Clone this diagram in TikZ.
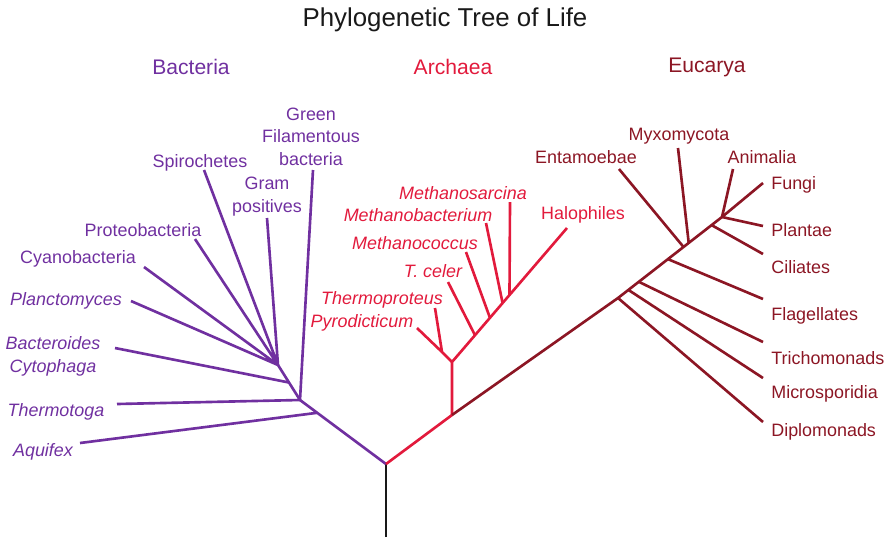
\documentclass[tikz,border=0pt]{standalone}
\usepackage{fontspec}
\setmainfont{Liberation Sans}
\usetikzlibrary{calc}
\definecolor{grape}{RGB}{112,48,160}
\definecolor{crimson}{RGB}{226,26,60}
\definecolor{maroon}{RGB}{140,22,36}
\definecolor{ink}{RGB}{25,25,25}
\tikzset{
  branch/.style={draw=#1,line width=1.5pt,line join=round},
  branch/.default=ink,
  tag/.style={text=#1,font=\fontsize{10.2}{13}\selectfont,align=center,inner sep=0pt,yshift=-1pt},
  tag/.default=ink,
  itag/.style={tag=#1,font=\fontsize{10.2}{13}\selectfont\itshape},
  rtag/.style={tag=#1,anchor=west},
  domain/.style={text=#1,font=\fontsize{12}{14}\selectfont,yshift=-0.6pt},
  % tree is laid out in pixels, y pointing down
}

\begin{document}
\begin{tikzpicture}[x=0.02cm,y=-0.02cm]
  \useasboundingbox (0,0) rectangle (890,539);
  \node[text=ink,font=\fontsize{14.7}{17}\selectfont,yshift=-1.1pt] (title) at (445,18) {Phylogenetic Tree of Life};
  \node[domain=grape] (bac) at (191,66) {Bacteria};
  \node[domain=crimson] (arc) at (453,66) {Archaea};
  \node[domain=maroon] (euk) at (707,66) {Eucarya};
  % trunk and main forks
  \coordinate (base) at (386,537); \coordinate (root) at (386,464);
  \coordinate (b1) at (300,400); \coordinate (b2) at (278,365);
  \coordinate (a0) at (452,415); \coordinate (a1) at (452,362); \coordinate (a2) at (442,352);
  \coordinate (e1) at (618,298); \coordinate (e2) at (722,217);
  \coordinate (halo) at (567,228);
  \draw[branch] (base) -- (root);
  % bacteria
  \coordinate (jaq) at ($(root)!0.8!(b1)$); \coordinate (jbc) at ($(b1)!0.5!(b2)$);
  \coordinate (aqu) at (80,443); \coordinate (tmt) at (117,404); \coordinate (gfb) at (313,170);
  \coordinate (bcy) at (115,348); \coordinate (pla) at (131,301); \coordinate (cya) at (144,267);
  \coordinate (pro) at (195,239); \coordinate (spi) at (204,170); \coordinate (grp) at (267,218);
  \draw[branch=grape] (root) -- (b1) -- (b2);
  \draw[branch=grape] (jaq) -- (aqu) (b1) -- (tmt) (b1) -- (gfb) (jbc) -- (bcy)
    (b2) -- (pla) (b2) -- (cya) (b2) -- (pro) (b2) -- (spi) (b2) -- (grp);
  \node[tag=grape] (l-gfb) at (311,135) {Green\\Filamentous\\bacteria};
  \node[tag=grape] (l-spi) at (200,161) {Spirochetes};
  \node[tag=grape] (l-grp) at (267,195) {Gram\\positives};
  \node[tag=grape] (l-pro) at (143,228) {Proteobacteria};
  \node[tag=grape] (l-cya) at (78,257) {Cyanobacteria};
  \node[itag=grape] (l-pla) at (66,299) {Planctomyces};
  \node[itag=grape] (l-bcy) at (53,355) {Bacteroides\\Cytophaga};
  \node[itag=grape] (l-tmt) at (56,410) {Thermotoga};
  \node[itag=grape] (l-aqu) at (43,450) {Aquifex};
  % archaea
  \coordinate (jtc) at ($(a1)!0.2!(halo)$); \coordinate (jmc) at ($(a1)!0.33!(halo)$);
  \coordinate (jmb) at ($(a1)!0.44!(halo)$); \coordinate (jms) at ($(a1)!0.5!(halo)$);
  \coordinate (pyr) at (417,328); \coordinate (thp) at (435,308); \coordinate (tce) at (448,282);
  \coordinate (mco) at (466,252); \coordinate (mba) at (486,223); \coordinate (msa) at (510,202);
  \draw[branch=crimson] (root) -- (a0) -- (a1) -- (halo);
  \draw[branch=crimson] (a1) -- (a2) -- (pyr) (a2) -- (thp) (jtc) -- (tce) (jmc) -- (mco)
    (jmb) -- (mba) (jms) -- (msa);
  \node[itag=crimson] (l-msa) at (463,191) {Methanosarcina};
  \node[itag=crimson] (l-mba) at (418,213) {Methanobacterium};
  \node[itag=crimson] (l-mco) at (415,241) {Methanococcus};
  \node[itag=crimson] (l-tce) at (433,269) {T. celer};
  \node[itag=crimson] (l-thp) at (382,298) {Thermoproteus};
  \node[itag=crimson] (l-pyr) at (362,321) {Pyrodicticum};
  \node[tag=crimson] (l-hal) at (583,213) {Halophiles};
  % eucarya
  \coordinate (jmi) at ($(e1)!0.1!(e2)$); \coordinate (jtr) at ($(e1)!0.2!(e2)$);
  \coordinate (jfl) at ($(e1)!0.48!(e2)$); \coordinate (jen) at ($(e1)!0.63!(e2)$);
  \coordinate (jmy) at ($(e1)!0.68!(e2)$); \coordinate (jci) at ($(e1)!0.9!(e2)$);
  \coordinate (dip) at (763,422); \coordinate (mic) at (763,378); \coordinate (tri) at (763,342);
  \coordinate (fla) at (763,299); \coordinate (cil) at (763,254); \coordinate (pln) at (763,226);
  \coordinate (fun) at (763,183); \coordinate (ani) at (733,169); \coordinate (myx) at (678,148);
  \coordinate (ent) at (619,169);
  \draw[branch=maroon] (a0) -- (e1) -- (e2) -- (fun);
  \draw[branch=maroon] (e1) -- (dip) (jmi) -- (mic) (jtr) -- (tri) (jfl) -- (fla) (jen) -- (ent)
    (jmy) -- (myx) (jci) -- (cil) (e2) -- (pln) (e2) -- (ani);
  \node[tag=maroon] (l-myx) at (679,134) {Myxomycota};
  \node[tag=maroon] (l-ent) at (586,155) {Entamoebae};
  \node[tag=maroon] (l-ani) at (762,155) {Animalia};
  \node[rtag=maroon] (l-fun) at (771,183) {Fungi};
  \node[rtag=maroon] (l-pln) at (771,228) {Plantae};
  \node[rtag=maroon] (l-cil) at (771,265) {Ciliates};
  \node[rtag=maroon] (l-fla) at (771,314) {Flagellates};
  \node[rtag=maroon] (l-tri) at (771,356) {Trichomonads};
  \node[rtag=maroon] (l-mic) at (771,392) {Microsporidia};
  \node[rtag=maroon] (l-dip) at (771,430) {Diplomonads};
\end{tikzpicture}
\end{document}
